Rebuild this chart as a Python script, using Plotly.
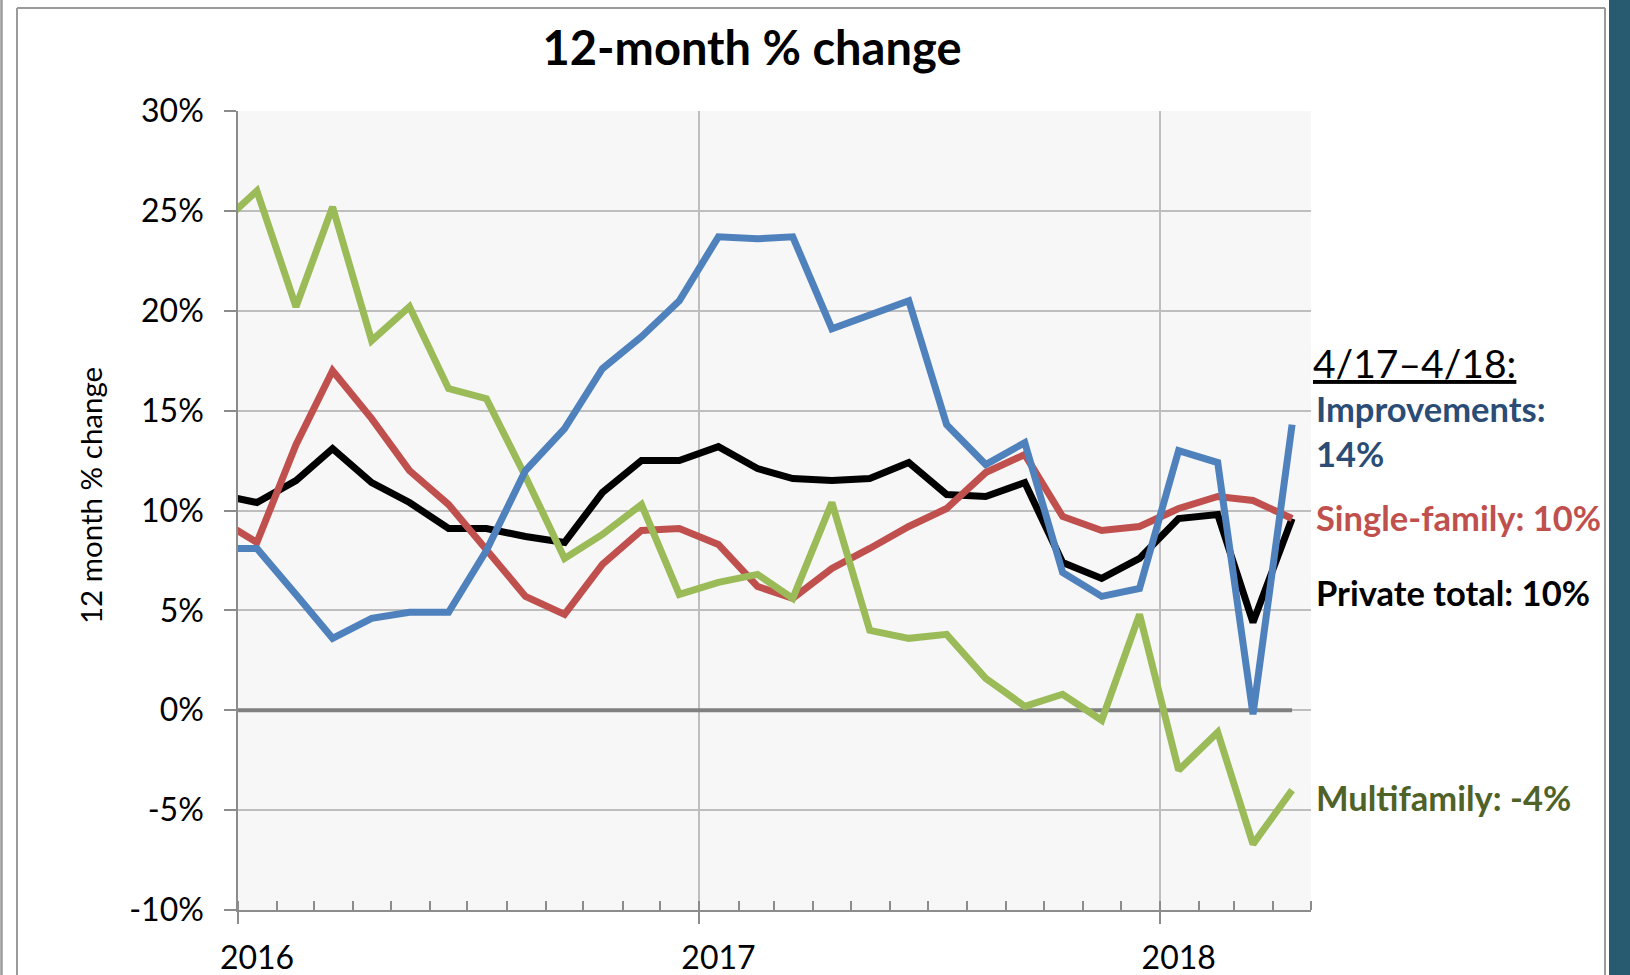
import pandas as pd
import plotly.graph_objects as go

# Monthly observations (Dec 2015 is only partly visible, clipped by the axis start)
months = ["2015-12", "2016-01", "2016-02", "2016-03", "2016-04", "2016-05", "2016-06",
          "2016-07", "2016-08", "2016-09", "2016-10", "2016-11", "2016-12",
          "2017-01", "2017-02", "2017-03", "2017-04", "2017-05", "2017-06",
          "2017-07", "2017-08", "2017-09", "2017-10", "2017-11", "2017-12",
          "2018-01", "2018-02", "2018-03", "2018-04"]

private_total = [10.8, 10.4, 11.5, 13.1, 11.4, 10.4, 9.1, 9.1, 8.7, 8.4, 10.9, 12.5, 12.5,
                 13.2, 12.1, 11.6, 11.5, 11.6, 12.4, 10.8, 10.7, 11.4, 7.4, 6.6, 7.6,
                 9.6, 9.8, 4.4, 9.6]
single_family = [9.6, 8.4, 13.3, 17.0, 14.6, 12.0, 10.3, 8.1, 5.7, 4.8, 7.3, 9.0, 9.1,
                 8.3, 6.2, 5.6, 7.1, 8.1, 9.2, 10.1, 11.9, 12.8, 9.7, 9.0, 9.2,
                 10.1, 10.7, 10.5, 9.6]
multifamily = [24.2, 26.0, 20.2, 25.2, 18.5, 20.2, 16.1, 15.6, 11.7, 7.6, 8.8, 10.3, 5.8,
               6.4, 6.8, 5.6, 10.4, 4.0, 3.6, 3.8, 1.6, 0.2, 0.8, -0.5, 4.8,
               -3.0, -1.1, -6.7, -4.0]
improvements = [8.1, 8.1, 5.8, 3.6, 4.6, 4.9, 4.9, 8.0, 12.0, 14.1, 17.1, 18.7, 20.5,
                23.7, 23.6, 23.7, 19.1, 19.8, 20.5, 14.3, 12.3, 13.4, 6.9, 5.7, 6.1,
                13.0, 12.4, -0.2, 14.3]
zero_line = [0.0] * len(months)

y_ticks = [-10, -5, 0, 5, 10, 15, 20, 25, 30]
y_tick_text = ["-10%", "-5%", "0%", "5%", "10%", "15%", "20%", "25%", "30%"]

title_text = "12-month % change"
y_title = "12 month % change"
side_header = "4/17\u20134/18:"
side_labels = [
    ("Improvements:", "#2B4C75", 408),
    ("14%", "#2B4C75", 453),
    ("Single-family: 10%", "#C0504D", 517),
    ("Private total: 10%", "#000000", 592),
    ("Multifamily: -4%", "#4F6228", 797),
]

# mid-month plotting positions
x_dates = pd.to_datetime(months) + pd.Timedelta(days=15)

FONT = "Lato"
W, H = 1630, 975
# plot area in screen pixels
L, R, T, B = 238, 1311, 111, 910


def px_x(p):
    return (p - L) / (R - L)


def px_y(p):
    return (B - p) / (B - T)


fig = go.Figure()
fig.add_trace(go.Scatter(x=x_dates, y=zero_line, mode="lines",
                         line=dict(color="#808080", width=4), hoverinfo="skip"))
series = [
    ("Private total", private_total, "#000000"),
    ("Single-family", single_family, "#C0504D"),
    ("Multifamily", multifamily, "#9BBB59"),
    ("Improvements", improvements, "#4F81BD"),
]
for name, vals, col in series:
    fig.add_trace(go.Scatter(x=x_dates, y=vals, mode="lines", name=name,
                             line=dict(color=col, width=7)))

fig.update_layout(
    width=W, height=H,
    margin=dict(l=L, r=W - R, t=T, b=H - B, autoexpand=False),
    paper_bgcolor="white",
    plot_bgcolor="#F7F7F7",
    showlegend=False,
    font=dict(family=FONT, color="black"),
    title=dict(text="<b>" + title_text + "</b>", x=px_x(752), xanchor="center",
               xref="paper", y=1 - 49 / H, yanchor="middle", automargin=False,
               font=dict(family=FONT, size=47, color="black")),
)

fig.update_xaxes(
    type="date",
    range=["2016-01-01", "2018-05-01"],
    tick0="2016-01-01", dtick="M12", tickformat="%Y",
    ticks="outside", ticklen=12, tickwidth=1.5, tickcolor="#8C8C8C",
    showline=True, linecolor="#8C8C8C", linewidth=1.5,
    showgrid=True, gridcolor="#BEBEBE", gridwidth=1.5,
    tickfont=dict(family=FONT, size=32, color="black"),
    ticklabelshift=19, ticklabelstandoff=7,
    minor=dict(dtick="M1", ticks="inside", ticklen=9, tickwidth=1.5,
               tickcolor="#8C8C8C", showgrid=False),
    zeroline=False, automargin=False,
)
fig.update_yaxes(
    range=[-10, 30],
    tickvals=y_ticks, ticktext=y_tick_text,
    ticks="outside", ticklen=12, tickwidth=1.5, tickcolor="#8C8C8C",
    showline=True, linecolor="#8C8C8C", linewidth=1.5,
    showgrid=True, gridcolor="#BEBEBE", gridwidth=1.5,
    tickfont=dict(family=FONT, size=32, color="black"),
    ticklabelstandoff=14,
    zeroline=False, automargin=False,
)

annotations = [
    dict(text=y_title, x=px_x(90), y=px_y(496), xref="paper", yref="paper",
         xanchor="center", yanchor="middle", textangle=-90, showarrow=False,
         font=dict(family=FONT, size=29.5, color="black")),
    dict(text="<u>" + side_header + "</u>", x=px_x(1311), y=px_y(363),
         xref="paper", yref="paper", xanchor="left", yanchor="middle",
         showarrow=False, font=dict(family=FONT, size=39, color="black")),
]
for txt, col, py in side_labels:
    annotations.append(dict(text="<b>" + txt + "</b>", x=px_x(1314), y=px_y(py),
                            xref="paper", yref="paper", xanchor="left", yanchor="middle",
                            showarrow=False, font=dict(family=FONT, size=34.5, color=col)))
fig.update_layout(annotations=annotations)

shapes = [
    dict(type="line", xref="paper", yref="paper", x0=px_x(1.5), x1=px_x(1.5),
         y0=px_y(-20), y1=px_y(H + 20), line=dict(color="#9A9A9A", width=2.5)),
    dict(type="line", xref="paper", yref="paper", x0=px_x(17), x1=px_x(17),
         y0=px_y(8), y1=px_y(H + 20), line=dict(color="#9A9A9A", width=2)),
    dict(type="line", xref="paper", yref="paper", x0=px_x(17), x1=px_x(1605),
         y0=px_y(8), y1=px_y(8), line=dict(color="#9A9A9A", width=2)),
    dict(type="line", xref="paper", yref="paper", x0=px_x(1605), x1=px_x(1605),
         y0=px_y(8), y1=px_y(H + 20), line=dict(color="#9A9A9A", width=2)),
    dict(type="rect", xref="paper", yref="paper", x0=px_x(1609), x1=px_x(W + 20),
         y0=px_y(-20), y1=px_y(H + 20), line=dict(width=0), fillcolor="#285A70"),
]
fig.update_layout(shapes=shapes)

fig.write_html("out.html",
               config={"displayModeBar": False},
               post_script="document.body.style.margin='0px';"
                           "document.documentElement.style.overflow='hidden';")
